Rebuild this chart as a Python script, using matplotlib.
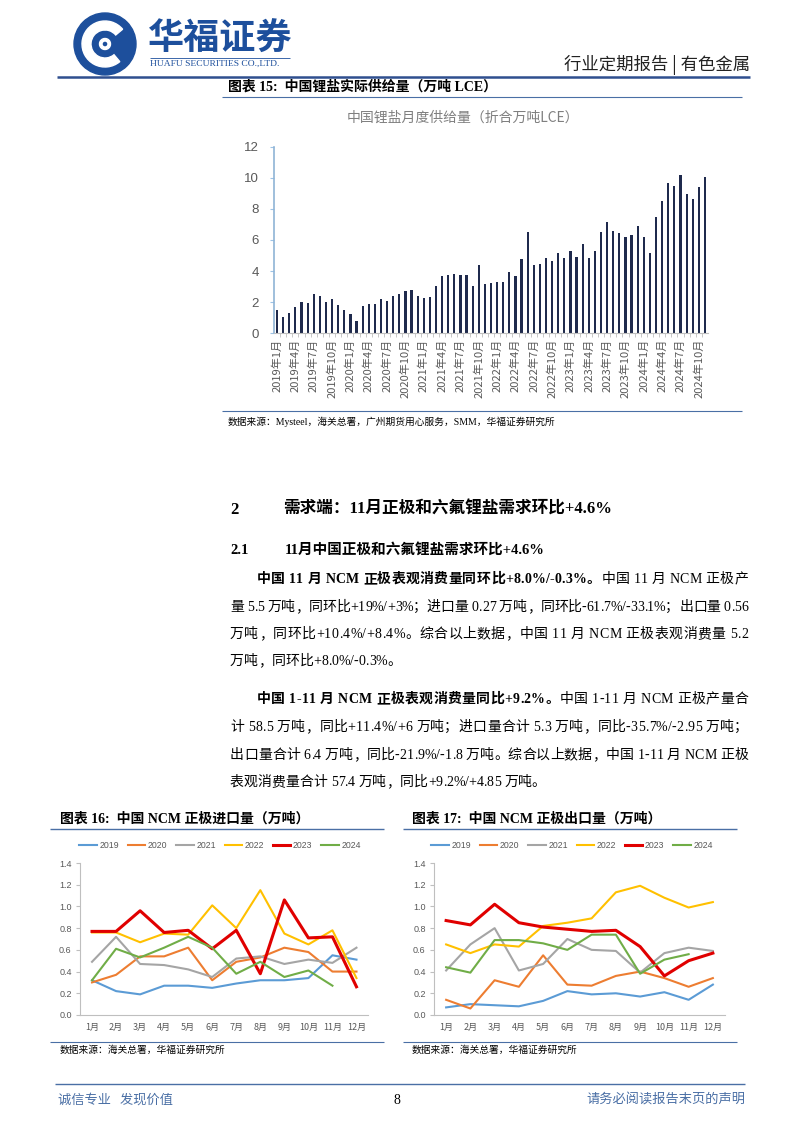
import matplotlib
matplotlib.use('Agg')
import matplotlib.pyplot as plt
from matplotlib.patches import Circle, Wedge, Polygon
from matplotlib.lines import Line2D
from matplotlib.font_manager import FontProperties, findfont, get_font

W, H = 802, 1133
SANS = ['Liberation Sans', 'Noto Sans CJK SC']
SERIF = ['Liberation Serif', 'Noto Sans CJK SC']
CJK = ['Noto Sans CJK SC', 'DejaVu Sans']
plt.rcParams['font.family'] = SANS

# ---- data ----
years = [2019, 2020, 2021, 2022, 2023, 2024]
supply = [1.49, 1.06, 1.32, 1.70, 2.00, 1.92, 2.53, 2.40, 2.00, 2.19, 1.79, 1.49,
          1.23, 0.79, 1.76, 1.87, 1.87, 2.23, 2.06, 2.40, 2.53, 2.72, 2.75, 2.38,
          2.28, 2.30, 3.04, 3.70, 3.75, 3.83, 3.75, 3.75, 3.04, 4.36, 3.17, 3.21,
          3.30, 3.30, 3.92, 3.68, 4.79, 6.52, 4.41, 4.47, 4.83, 4.64, 5.15, 4.85,
          5.30, 4.90, 5.73, 4.85, 5.26, 6.49, 7.13, 6.60, 6.43, 6.17, 6.34, 6.90,
          6.17, 5.15, 7.45, 8.47, 9.67, 9.46, 10.20, 8.95, 8.60, 9.41, 10.03]
month_labels = [f"{y}年{m}月" for y in years for m in range(1, 13)][:len(supply)]

months = ['1月', '2月', '3月', '4月', '5月', '6月', '7月', '8月', '9月', '10月', '11月', '12月']
imp_2019 = [0.32, 0.22, 0.19, 0.27, 0.27, 0.25, 0.29, 0.32, 0.32, 0.34, 0.55, 0.51]
imp_2020 = [0.30, 0.37, 0.54, 0.54, 0.62, 0.32, 0.49, 0.53, 0.62, 0.58, 0.40, 0.40]
imp_2021 = [0.49, 0.72, 0.47, 0.46, 0.42, 0.35, 0.52, 0.54, 0.47, 0.51, 0.48, 0.62]
imp_2022 = [0.76, 0.76, 0.67, 0.75, 0.74, 1.01, 0.80, 1.15, 0.75, 0.65, 0.78, 0.34]
imp_2023 = [0.77, 0.77, 0.96, 0.76, 0.78, 0.61, 0.78, 0.38, 1.06, 0.71, 0.72, 0.26]
imp_2024 = [0.32, 0.61, 0.53, 0.62, 0.72, 0.62, 0.38, 0.49, 0.35, 0.41, 0.27]

exp_2019 = [0.07, 0.10, 0.09, 0.08, 0.13, 0.22, 0.19, 0.20, 0.17, 0.21, 0.14, 0.28]
exp_2020 = [0.14, 0.06, 0.32, 0.26, 0.55, 0.28, 0.27, 0.36, 0.40, 0.34, 0.26, 0.34]
exp_2021 = [0.41, 0.65, 0.80, 0.41, 0.47, 0.70, 0.60, 0.59, 0.39, 0.57, 0.62, 0.59]
exp_2022 = [0.65, 0.57, 0.65, 0.63, 0.82, 0.85, 0.89, 1.13, 1.19, 1.08, 0.99, 1.04]
exp_2023 = [0.87, 0.83, 1.02, 0.85, 0.81, 0.79, 0.77, 0.78, 0.63, 0.36, 0.50, 0.57]
exp_2024 = [0.44, 0.39, 0.69, 0.69, 0.66, 0.60, 0.74, 0.74, 0.38, 0.51, 0.56]

series_names = ['2019', '2020', '2021', '2022', '2023', '2024']
series_colors = ['#5B9BD5', '#ED7D31', '#A5A5A5', '#FFC000', '#E00000', '#70AD47']
series_lw = [1.5, 1.5, 1.5, 1.5, 2.2, 1.5]

fig = plt.figure(figsize=(W / 100, H / 100), dpi=100)
page = fig.add_axes([0, 0, 1, 1])
page.set_xlim(0, W)
page.set_ylim(H, 0)
page.axis('off')


def box(l, t, r, b):
    return fig.add_axes([l / W, 1 - b / H, (r - l) / W, (b - t) / H])


def hline(y, x0, x1, color, lw):
    page.plot([x0, x1], [y, y], color=color, lw=lw, solid_capstyle='butt')


# advance width of one character, using the first family that has it
def advance(ch, size, bold):
    for fam in SERIF:
        f = get_font(findfont(FontProperties(family=fam, weight='bold' if bold else 'normal')))
        if ord(ch) in f.get_charmap():
            f.set_size(size, 100)
            g = f.load_char(ord(ch))
            return g.linearHoriAdvance / 65536
    return size * 100 / 72


def text_line(segs, x0, x1, y, size, justify=True):
    chars = [(ch, b) for txt, b in segs for ch in txt]
    widths = [advance(ch, size, b) for ch, b in chars]
    extra = 0
    if justify and len(chars) > 1:
        extra = (x1 - x0 - sum(widths)) / (len(chars) - 1)
    x = x0
    for (ch, b), w in zip(chars, widths):
        page.text(x, y, ch, fontsize=size, fontweight='bold' if b else 'normal',
                  family=SERIF, va='baseline', ha='left', color='black')
        x += w + extra


# ---- header ----
blue = '#1d4f9c'
page.add_patch(Circle((105, 44), 31, color=blue))
page.add_patch(Wedge((105, 44), 23, 50, 320, width=9, color='white'))
page.add_patch(Polygon([(105, 34), (115, 44), (105, 54), (95, 44)], closed=True, color=blue))
page.add_patch(Wedge((105, 44), 5.5, 0, 360, width=2.5, color='white'))
page.text(148, 39, '华福证券', fontsize=26, fontweight='bold', color=blue, family=CJK, va='center')
hline(58, 150, 290, blue, 0.6)
page.text(150, 64, 'HUAFU SECURITIES CO.,LTD.', fontsize=6.8, color=blue,
          family='Liberation Serif', va='center')
page.text(750, 65, '行业定期报告 | 有色金属', fontsize=12.5, color='#222222', family=CJK,
          ha='right', va='center')
hline(77, 57, 750, '#2f4f8f', 1.8)

# ---- chart 15 ----
page.text(228, 87, '图表 15:  中国锂盐实际供给量（万吨 LCE）', fontsize=10, fontweight='bold',
          family=SERIF, va='center')
hline(96.5, 222, 742, '#4a6fa5', 0.8)
page.text(463, 118, '中国锂盐月度供给量（折合万吨LCE）', fontsize=10, color='#7f7f7f',
          family=CJK, ha='center', va='center')

ax = box(274, 146.5, 708, 333.3)
xs = list(range(len(supply)))
ax.bar(xs, supply, width=0.36, color='#1f2a4d')
ax.set_xlim(-0.5, len(supply) - 0.5)
ax.set_ylim(0, 12)
ax.set_yticks(range(0, 13, 2))
ax.set_xticks(xs[::3])
ax.set_xticklabels(month_labels[::3], rotation=90, fontsize=8, color='#595959', family=CJK)
ax.set_xticks([x + 0.5 for x in xs[:-1]], minor=True)
ax.tick_params(axis='x', which='major', length=0, pad=4)
ax.tick_params(axis='x', which='minor', length=3, color='#bfbfbf')
ax.tick_params(axis='y', labelsize=9.5, labelcolor='#595959', length=3, color='#9dc3e6', pad=8)
for s in ['top', 'right']:
    ax.spines[s].set_visible(False)
ax.spines['left'].set_color('#8fb4d6')
ax.spines['left'].set_linewidth(1.2)
ax.spines['bottom'].set_color('#bfbfbf')

hline(411, 222, 742, '#4a6fa5', 0.8)
page.text(228, 422, '数据来源：Mysteel，海关总署，广州期货用心服务，SMM，华福证券研究所',
          fontsize=7, family=SERIF, va='center')

# ---- section text ----
page.text(230, 510, '2', fontsize=12, fontweight='bold', family=SERIF, va='center')
page.text(283, 510, '需求端：11月正极和六氟锂盐需求环比+4.6%', fontsize=12, fontweight='bold',
          family=SERIF, va='center')
page.text(230, 550, '2.1', fontsize=10.5, fontweight='bold', family=SERIF, va='center')
page.text(285, 550, '11月中国正极和六氟锂盐需求环比+4.6%', fontsize=10.5, fontweight='bold',
          family=SERIF, va='center')

para1 = [
    [('中国 11 月 NCM 正极表观消费量同环比+8.0%/-0.3%。', True), ('中国 11 月 NCM 正极产', False)],
    [('量 5.5 万吨，同环比+19%/+3%；进口量 0.27 万吨，同环比-61.7%/-33.1%；出口量 0.56', False)],
    [('万吨，同环比+10.4%/+8.4%。综合以上数据，中国 11 月 NCM 正极表观消费量 5.2', False)],
    [('万吨，同环比+8.0%/-0.3%。', False)],
]
para2 = [
    [('中国 1-11 月 NCM 正极表观消费量同比+9.2%。', True), ('中国 1-11 月 NCM 正极产量合', False)],
    [('计 58.5 万吨，同比+11.4%/+6 万吨；进口量合计 5.3 万吨，同比-35.7%/-2.95 万吨；', False)],
    [('出口量合计 6.4 万吨，同比-21.9%/-1.8 万吨。综合以上数据，中国 1-11 月 NCM 正极', False)],
    [('表观消费量合计 57.4 万吨，同比+9.2%/+4.85 万吨。', False)],
]
for para, ys in [(para1, [583, 611, 638, 665]), (para2, [703, 731, 759, 786])]:
    for i, (segs, y) in enumerate(zip(para, ys)):
        x0 = 257 if i == 0 else 230
        text_line(segs, x0, 748, y, 10, justify=(i < len(para) - 1))


# ---- line charts ----
def line_chart(l, r, title_x, line_x0, line_x1, legend_x, data, title):
    page.text(title_x, 819, title, fontsize=10, fontweight='bold', family=SERIF, va='center')
    hline(828.5, line_x0, line_x1, '#4a6fa5', 1.0)
    a = box(l, 863, r, 1015)
    handles = []
    for vals, name, c, lw in zip(data, series_names, series_colors, series_lw):
        a.plot(range(len(vals)), vals, color=c, lw=lw)
        handles.append(Line2D([], [], color=c, lw=lw))
    a.set_xlim(-0.5, 11.5)
    a.set_ylim(0, 1.4)
    a.set_yticks([0, 0.2, 0.4, 0.6, 0.8, 1.0, 1.2, 1.4])
    a.set_yticklabels(['0.0', '0.2', '0.4', '0.6', '0.8', '1.0', '1.2', '1.4'])
    a.set_xticks(range(12))
    a.set_xticklabels(months, family=CJK)
    a.tick_params(labelsize=6.5, labelcolor='#595959', length=3, color='#bfbfbf', pad=3)
    a.tick_params(axis='x', length=0, pad=6)
    for s in ['top', 'right']:
        a.spines[s].set_visible(False)
    for s in ['left', 'bottom']:
        a.spines[s].set_color('#bfbfbf')
    fig.legend(handles, series_names, loc='center', bbox_to_anchor=(legend_x / W, 1 - 846 / H),
               ncol=6, frameon=False, fontsize=6.3, labelcolor='#595959', handlelength=2.0,
               handletextpad=0.3, columnspacing=1.0)
    hline(1042, line_x0, line_x1, '#4a6fa5', 0.8)
    page.text(title_x, 1050, '数据来源：海关总署，华福证券研究所', fontsize=7, family=SERIF, va='center')


line_chart(80, 368.5, 60, 50, 384, 220,
           [imp_2019, imp_2020, imp_2021, imp_2022, imp_2023, imp_2024],
           '图表 16:  中国 NCM 正极进口量（万吨）')
line_chart(434, 725, 412, 403, 737, 572,
           [exp_2019, exp_2020, exp_2021, exp_2022, exp_2023, exp_2024],
           '图表 17:  中国 NCM 正极出口量（万吨）')

# ---- footer ----
hline(1084, 55, 745, '#4a6fa5', 1.0)
page.text(58, 1100, '诚信专业   发现价值', fontsize=9.5, color='#4a6fa5', family=CJK, va='center')
page.text(397, 1100, '8', fontsize=10, color='black', family=SERIF, ha='center', va='center')
page.text(745, 1100, '请务必阅读报告末页的声明', fontsize=9.5, color='#4a6fa5', family=CJK,
          ha='right', va='center')

fig.savefig('out.png', dpi=100)
